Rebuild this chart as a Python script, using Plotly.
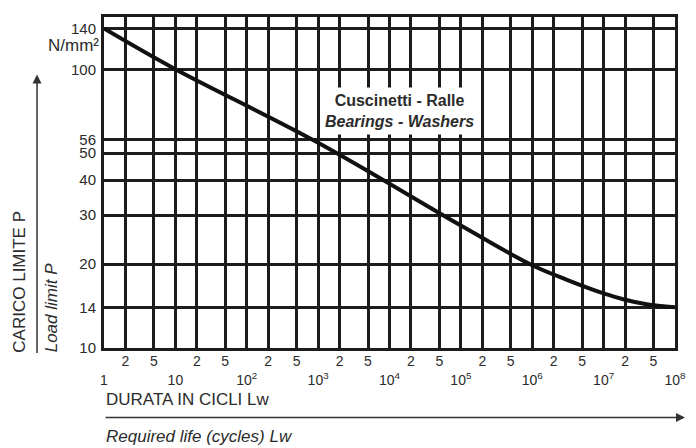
"""
Curva carico limite - durata (Cuscinetti - Ralle)
"""
import plotly.graph_objects as go
import numpy as np

# valori
cicli = [1, 10, 1e3, 1e5, 1e6, 3e6, 1e7, 2e7, 4e7, 1e8]
carico = [140, 100, 54.5, 27.5, 19.8, 17.6, 15.7, 14.9, 14.35, 14.0]

y_ticks = [10, 14, 20, 30, 40, 50, 56, 100, 140]
x_grid = [m * 10 ** e for e in range(8) for m in (1, 2, 5)] + [1e8]
x_grid_text = ['' if m == 1 else str(m) for e in range(8) for m in (1, 2, 5)] + ['']
x_decadi = [10 ** e for e in range(9)]
x_decadi_text = ['1', '10'] + [f'10<sup>{e}</sup>' for e in range(2, 9)]

INK = '#1c1c1c'
TEXT = '#2b2b2b'
FONT = 'Liberation Sans Narrow, Liberation Sans, Arial'

fig = go.Figure()
fig.add_trace(go.Scatter(
    x=cicli,
    y=carico,
    mode='lines',
    line=dict(color='#111111', width=4, shape='spline', smoothing=1.0),
    hoverinfo='skip',
    showlegend=False
))
# asse fittizio per le etichette delle decadi
fig.add_trace(go.Scatter(x=[1, 1e8], y=[None, None], xaxis='x2', showlegend=False))

# la pagina ha 8px di margine: la figura e' ridotta di conseguenza
fig.update_layout(
    width=688,
    height=440,
    margin=dict(l=96, r=21, t=6, b=100),
    paper_bgcolor='white',
    plot_bgcolor='white',
    font=dict(family=FONT, color=TEXT),
    xaxis=dict(
        type='log', range=[0, 8],
        tickvals=x_grid, ticktext=x_grid_text,
        tickfont=dict(size=14, family='Liberation Sans', color=TEXT),
        ticklabelstandoff=-2,
        showgrid=True, gridcolor=INK, gridwidth=2.5,
        showline=True, linecolor=INK, linewidth=3, mirror=True,
        ticks='', zeroline=False
    ),
    xaxis2=dict(
        type='log', range=[0, 8], overlaying='x', anchor='y', side='bottom',
        tickvals=x_decadi, ticktext=x_decadi_text,
        tickfont=dict(size=14, family='Liberation Sans', color=TEXT),
        ticklabelstandoff=22,
        showgrid=False, showline=False, ticks='', zeroline=False
    ),
    yaxis=dict(
        type='log', range=[1, np.log10(154)],
        tickvals=y_ticks, ticktext=[str(v) for v in y_ticks],
        tickfont=dict(size=15, family='Liberation Sans', color=TEXT),
        showgrid=True, gridcolor=INK, gridwidth=2.5,
        showline=True, linecolor=INK, linewidth=3, mirror=True,
        ticks='', zeroline=False, ticklabelstandoff=2
    )
)

fig.add_annotation(
    x=4.144, y=1.8505, xref='x', yref='y',
    text='<b>Cuscinetti - Ralle</b><br><b><i>Bearings - Washers</i></b>',
    showarrow=False, bgcolor='white', borderpad=4,
    font=dict(size=16, color=TEXT)
)
fig.add_annotation(
    x=0, y=0.913, xref='paper', yref='paper', xanchor='right', yanchor='middle', xshift=-3,
    text='N/mm²', showarrow=False, font=dict(size=17, family='Liberation Sans', color=TEXT)
)
fig.add_annotation(
    x=-0.147, y=0.2006, xref='paper', yref='paper', xanchor='center', yanchor='middle',
    textangle=-90, text='CARICO LIMITE P', showarrow=False, font=dict(size=17)
)
fig.add_annotation(
    x=-0.0928, y=0.12, xref='paper', yref='paper', xanchor='center', yanchor='middle',
    textangle=-90, text='<i>Load limit P</i>', showarrow=False, font=dict(size=17)
)
fig.add_annotation(
    x=0, y=-0.1557, xref='paper', yref='paper', xanchor='left', yanchor='middle',
    text='DURATA IN CICLI Lw', showarrow=False, font=dict(size=17)
)
fig.add_annotation(
    x=0, y=-0.2665, xref='paper', yref='paper', xanchor='left', yanchor='middle',
    text='<i>Required life (cycles) Lw</i>', showarrow=False, font=dict(size=17)
)
# frecce
fig.add_annotation(
    x=-0.1173, y=0.826, xref='paper', yref='paper', ax=0, ay=280,
    text='', showarrow=True, arrowhead=2, arrowsize=1.2, arrowwidth=1.5, arrowcolor='#333333'
)
fig.add_annotation(
    x=1.0175, y=-0.2096, xref='paper', yref='paper', ax=-581, ay=0,
    text='', showarrow=True, arrowhead=2, arrowsize=1.2, arrowwidth=1.5, arrowcolor='#333333'
)

fig.write_html("out.html")
